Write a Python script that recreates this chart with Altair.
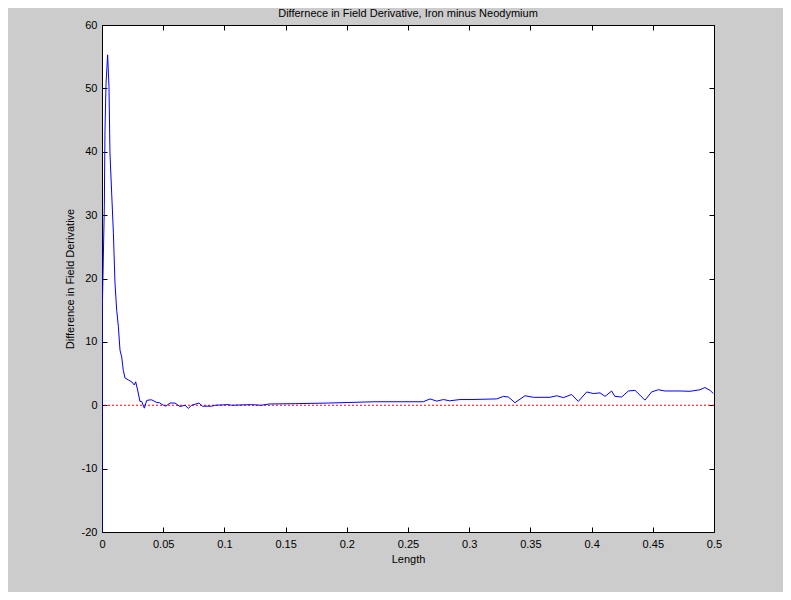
import altair as alt
import pandas as pd

# readings
length = [
    0.0, 0.0002, 0.0019, 0.00245, 0.0033, 0.0046, 0.0057, 0.0065, 0.0079,
    0.0093, 0.0106, 0.0120, 0.0134, 0.0147, 0.0161, 0.0174, 0.0188, 0.0215,
    0.0242, 0.0264, 0.0275, 0.0291, 0.0310, 0.0324, 0.0346, 0.0365, 0.0392,
    0.0406, 0.0447, 0.047, 0.0488, 0.052, 0.0556, 0.0596, 0.0637, 0.0678,
    0.0705, 0.0733, 0.0792, 0.082, 0.0896, 0.0923, 0.103, 0.106, 0.122,
    0.130, 0.137, 0.158, 0.185, 0.223, 0.2435, 0.2625, 0.268, 0.2735, 0.279,
    0.284, 0.2925, 0.3007, 0.3225, 0.328, 0.332, 0.3374, 0.3456, 0.3524,
    0.366, 0.3715, 0.377, 0.3837, 0.3891, 0.396, 0.4014, 0.4069, 0.411,
    0.4164, 0.419, 0.4246, 0.43, 0.4355, 0.4395, 0.4436, 0.449, 0.4545,
    0.46, 0.4722, 0.4804, 0.4886, 0.4926, 0.4967, 0.4995,
]
difference = [
    -20.0, 14.6, 31.3, 43.4, 50.8, 55.3, 50.3, 39.8, 33.5,
    27.2, 19.3, 15.0, 12.4, 8.7, 7.6, 5.5, 4.3, 4.0,
    3.7, 3.2, 3.7, 2.4, 0.6, 0.6, -0.46, 0.75, 0.85,
    0.85, 0.43, 0.4, 0.15, -0.15, 0.35, 0.35, -0.2, 0.0,
    -0.5, 0.0, 0.35, -0.15, -0.15, 0.0, 0.1, 0.0, 0.1,
    0.0, 0.2, 0.25, 0.35, 0.55, 0.55, 0.55, 1.0, 0.65, 0.9,
    0.7, 0.9, 0.9, 1.0, 1.4, 1.3, 0.4, 1.5, 1.25,
    1.25, 1.5, 1.2, 1.7, 0.6, 2.1, 1.85, 1.95, 1.4,
    2.25, 1.4, 1.3, 2.25, 2.35, 1.6, 0.8, 2.1, 2.45,
    2.25, 2.25, 2.2, 2.45, 2.8, 2.35, 1.85,
]
x_ticks = [0, 0.05, 0.1, 0.15, 0.2, 0.25, 0.3, 0.35, 0.4, 0.45, 0.5]
y_ticks = [-20, -10, 0, 10, 20, 30, 40, 50, 60]
zero_level = [0]

W, H = 612, 507
FONT = "Liberation Sans"

df = pd.DataFrame({"length": length, "difference": difference})
zero_df = pd.DataFrame({"level": zero_level})

x_scale = alt.Scale(domain=[0, 0.5], nice=False, zero=False)
y_scale = alt.Scale(domain=[-20, 60], nice=False)


def tick_axis(values, orient, offset):
    # ticks only, placed on the opposite edge so they point inward
    return alt.Axis(
        values=values, orient=orient, offset=offset, labels=False,
        domain=False, grid=False, ticks=True, tickSize=5, tickColor="black",
        tickWidth=1, title=None,
    )


line = (
    alt.Chart(df)
    .mark_line(color="#0000ff", strokeWidth=1, clip=True)
    .encode(
        x=alt.X(
            "length:Q", scale=x_scale,
            axis=alt.Axis(
                values=x_ticks, labelExpr="toString(datum.value)",
                orient="bottom", ticks=False, tickSize=0, domain=False,
                grid=False, labelPadding=6, labelFlush=False,
                title="Length", titlePadding=4,
            ),
        ),
        y=alt.Y(
            "difference:Q", scale=y_scale,
            axis=alt.Axis(
                values=y_ticks, labelExpr="toString(datum.value)",
                orient="left", ticks=False, tickSize=0, domain=False,
                grid=False, labelPadding=5, labelFlush=False,
                title="Difference in Field Derivative", titlePadding=6,
            ),
        ),
    )
)

zero_line = (
    alt.Chart(zero_df)
    .mark_rule(color="#ff0000", strokeWidth=1, strokeDash=[2, 2])
    .encode(y=alt.Y("level:Q", scale=y_scale, axis=tick_axis(y_ticks, "right", -W)))
)

ticks_a = (
    alt.Chart(df)
    .mark_line(opacity=0)
    .encode(
        x=alt.X("length:Q", scale=x_scale, axis=tick_axis(x_ticks, "top", -H)),
        y=alt.Y("difference:Q", scale=y_scale, axis=tick_axis(y_ticks, "left", -W)),
    )
)

ticks_b = (
    alt.Chart(df)
    .mark_line(opacity=0)
    .encode(
        x=alt.X("length:Q", scale=x_scale, axis=tick_axis(x_ticks, "bottom", -H)),
        y=alt.Y("difference:Q", scale=y_scale, axis=None),
    )
)

chart = (
    alt.layer(ticks_a, ticks_b, zero_line, line)
    .resolve_axis(x="independent", y="independent")
    .properties(
        width=W,
        height=H,
        autosize=alt.AutoSizeParams(type="none"),
        padding={"left": 94, "top": 17, "right": 69, "bottom": 60},
        background="#cccccc",
        title=alt.Title(
            "Differnece in Field Derivative, Iron minus Neodymium",
            fontSize=11, fontWeight="normal", font=FONT, color="black",
            offset=0,
        ),
    )
    .configure_view(fill="white", stroke="black", strokeWidth=1)
    .configure_axis(
        labelFont=FONT, labelFontSize=11, labelColor="black",
        titleFont=FONT, titleFontSize=11, titleFontWeight="normal",
        titleColor="black",
    )
)

chart.save("out.html", embed_options={"renderer": "svg", "actions": False})
